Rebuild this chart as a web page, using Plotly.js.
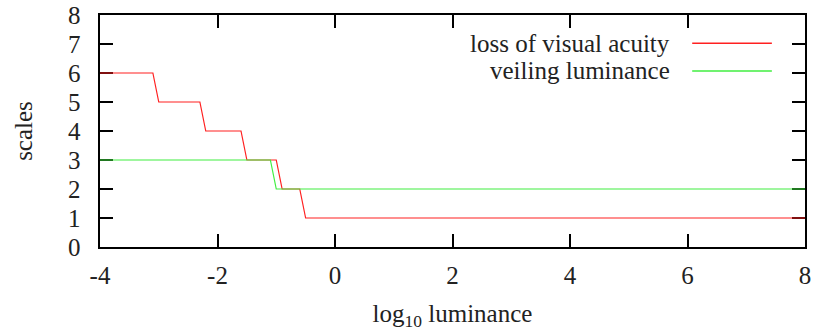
<!DOCTYPE html>
<html>
<head>
<meta charset="utf-8">
<script src="https://cdn.plot.ly/plotly-3.0.1.min.js"></script>
<style>html,body{margin:0;padding:0;background:#fff;}#chart{width:815px;height:333px;}</style>
</head>
<body>
<div id="chart"></div>
<script>
// log10 luminance breakpoints and scale values
const acuityX = [-4, -3.1, -3.0, -2.3, -2.2, -1.6, -1.5, -1.0, -0.9, -0.6, -0.5, 8];
const acuityY = [6, 6, 5, 5, 4, 4, 3, 3, 2, 2, 1, 1];
const veilX = [-4, -1.1, -1.0, 8];
const veilY = [3, 3, 2, 2];
const seriesNames = ["loss of visual acuity", "veiling luminance"];
const xTicks = [-4, -2, 0, 2, 4, 6, 8];
const yTicks = [0, 1, 2, 3, 4, 5, 6, 7, 8];

const font = {family: "Liberation Serif", size: 25, color: "#222"};
const red = "#ff2020", green = "#40ee40";

const traces = [
  {x: acuityX, y: acuityY, mode: "lines", line: {color: red, width: 1.2}, name: seriesNames[0], showlegend: false},
  {x: veilX, y: veilY, mode: "lines", line: {color: green, width: 1.2}, name: seriesNames[1], showlegend: false}
];

const legendRows = [
  {name: seriesNames[0], color: red, y: 0.878},
  {name: seriesNames[1], color: green, y: 0.759}
];

const layout = {
  width: 815, height: 333,
  margin: {l: 100, r: 10, t: 15, b: 86},
  paper_bgcolor: "#fff", plot_bgcolor: "#fff",
  font: font,
  showlegend: false,
  xaxis: {
    range: [-4, 8], tickvals: xTicks, ticktext: xTicks.map(String),
    showline: true, linewidth: 2, linecolor: "#000", mirror: "ticks",
    ticks: "inside", ticklen: 13, tickwidth: 2, tickcolor: "#000",
    showgrid: false, zeroline: false, ticklabelstandoff: 5, layer: "below traces",
    tickfont: font,
    title: {text: "log<sub>10</sub> luminance", font: font, standoff: 16}
  },
  yaxis: {
    range: [0, 8], tickvals: yTicks, ticktext: yTicks.map(v => String(v) + "\u00A0\u00A0"),
    showline: true, linewidth: 2, linecolor: "#000", mirror: "ticks",
    ticks: "inside", ticklen: 13, tickwidth: 2, tickcolor: "#000",
    showgrid: false, zeroline: false, layer: "below traces",
    tickfont: font,
    title: {text: "scales", font: font, standoff: 28}
  },
  annotations: legendRows.map(r => ({
    xref: "paper", yref: "paper", x: 0.811, y: r.y, xanchor: "right", yanchor: "middle",
    text: r.name, showarrow: false, font: font
  })),
  shapes: legendRows.map(r => ({
    type: "line", xref: "paper", yref: "paper", x0: 0.840, x1: 0.953, y0: r.y, y1: r.y,
    line: {color: r.color, width: 1.5}
  }))
};

Plotly.newPlot("chart", traces, layout, {displayModeBar: false, staticPlot: true});
</script>
</body>
</html>
